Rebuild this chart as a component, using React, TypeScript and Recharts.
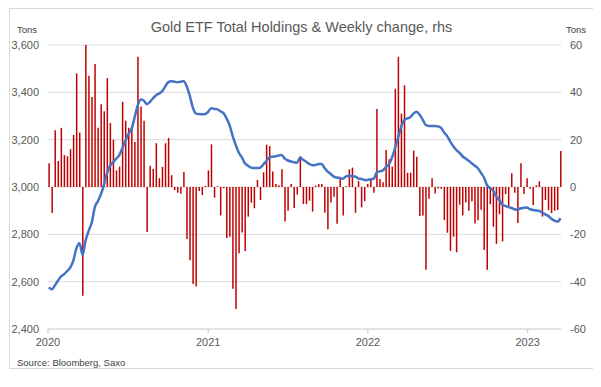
import { ComposedChart, Bar, Line, XAxis, YAxis, CartesianGrid } from "recharts";

// weekly change in tons (rhs), weeks starting 2020-01-03
const weeklyChange = [
  10, -11, 24, 11, 25, 13.5, 13, 16, 22, 48, 23, -46, 60, 47, 38, 52, 25, 35, 32, 46,
  27, 20, 7, 8.6, 36, 28, 25, 25, 19, 55, 34, 28, -19, 9, 7.6, 18.5, 3.7, 8.5, 18.5, 20.7,
  5, -1.3, -2.4, -2.8, 6.3, -22, -31, -41, -42, -1.7, -3.4, 0.5, 7, 18, -4.5, 0.3, -12, -0.5, -21.5, -21,
  -43, -51.5, -28, -19.2, -27, -12.5, -6.6, -9, 3, -5.5, 6.2, 17.9, 17.3, 6.5, 1.3, 0.7, 7.5, -14.6, -10, 1.3,
  -8.9, -3.2, 13, -7.2, -7.2, -5.8, -10.4, 0.6, 1.3, 1.3, -10.9, -17.9, -6.6, -4.1, -15.5, 4.2, -12, 0.3, 7.5, 8.2,
  -10.9, 2.5, -8.6, -6, 1.3, 3, -2.4, 33, 3.4, 2, 15.6, 11.7, 8.6, 41.5, 55, 31, 43, 6, 6, 15.4,
  12.8, -12.3, -12, -35, -5, 3.7, -2.7, -0.6, -0.8, -14, -19.3, -27, -21, -27.6, -7.5, -12, -6.6, -10, -6, -15.4,
  -14, -9.6, -26.6, -35, -7.3, -16.8, -24, -11.5, -23, -3, -8, 5.8, -2.4, -15.2, 10, -3, 3.7, -0.7, -7.6, 0.7,
  2.4, -12.5, -5.5, -9.7, -11, -10, -9.7, 15.2,
];

// total holdings in tons (lhs)
const holdings = [
  2576, 2568, 2585, 2605, 2622, 2632, 2645, 2660, 2690, 2742, 2762, 2713, 2775, 2815, 2850, 2915, 2940, 2970, 3010, 3060,
  3090, 3105, 3120, 3135, 3165, 3195, 3225, 3245, 3295, 3345, 3370, 3365, 3350, 3360, 3375, 3388, 3395, 3405, 3425, 3443,
  3447, 3445, 3443, 3445, 3447, 3425, 3385, 3335, 3310, 3308, 3307, 3308, 3318, 3333, 3330, 3328, 3320, 3312, 3290, 3260,
  3215, 3177, 3145, 3125, 3100, 3090, 3082, 3080, 3080, 3082, 3095, 3110, 3125, 3128, 3130, 3133, 3135, 3120, 3112, 3108,
  3105, 3102, 3125, 3115, 3107, 3097, 3092, 3093, 3097, 3097, 3080, 3065, 3055, 3044, 3040, 3038, 3035, 3045, 3048, 3045,
  3044, 3036, 3034, 3030, 3030, 3033, 3034, 3062, 3066, 3070, 3085, 3095, 3125, 3165, 3210, 3255, 3283, 3290, 3295, 3310,
  3318, 3305, 3285, 3262, 3258, 3258, 3258, 3256, 3250, 3230, 3215, 3192, 3172, 3156, 3145, 3130, 3120, 3111, 3100, 3090,
  3079, 3060, 3040, 3008, 2995, 2985, 2960, 2945, 2925, 2920, 2915, 2912, 2906, 2903, 2910, 2912, 2913, 2906, 2903, 2901,
  2899, 2892, 2884, 2878, 2866, 2858, 2854, 2868,
];

const firstWeek = Date.UTC(2020, 0, 3);
const DAY = 86400000;
const yearTicks = [Date.UTC(2020, 0, 1), Date.UTC(2021, 0, 1), Date.UTC(2022, 0, 1), Date.UTC(2023, 0, 1)];
const leftTicks = [2400, 2600, 2800, 3000, 3200, 3400, 3600];
const rightTicks = [-60, -40, -20, 0, 20, 40, 60];

const data = weeklyChange.map((c, i) => ({
  date: firstWeek + i * 7 * DAY,
  change: c,
  total: holdings[i],
}));

const font = "'Liberation Sans', Arial, sans-serif";
const gray = "#595959";
const grid = "#d9d9d9";

export default function App() {
  return (
    <div
      style={{
        position: "relative",
        marginLeft: 1,
        width: 585,
        height: 361,
        boxSizing: "border-box",
        border: `1px solid ${grid}`,
        fontFamily: font,
        background: "#fff",
      }}
    >
      <div
        style={{
          position: "absolute",
          left: 0,
          width: 583,
          top: 10,
          textAlign: "center",
          fontSize: 14.5,
          color: gray,
        }}
      >
        Gold ETF Total Holdings &amp; Weekly change, rhs
      </div>
      <div style={{ position: "absolute", left: 7, top: 15, fontSize: 9.5, color: "#404040" }}>Tons</div>
      <div style={{ position: "absolute", left: 556, top: 15, fontSize: 9.5, color: "#404040" }}>Tons</div>
      <div style={{ position: "absolute", left: 7, top: 348, fontSize: 9.5, color: "#404040" }}>
        Source: Bloomberg, Saxo
      </div>
      <div style={{ position: "absolute", left: 0, top: 0 }}>
        <ComposedChart
          width={583}
          height={359}
          data={data}
          margin={{ top: 36, right: 0, bottom: 19, left: 0 }}
        >
          <CartesianGrid vertical={false} stroke={grid} yAxisId="l" />
          <XAxis
            dataKey="date"
            type="number"
            scale="time"
            domain={[Date.UTC(2020, 0, 1), Date.UTC(2023, 2, 18)]}
            ticks={yearTicks}
            tickFormatter={(v) => String(new Date(v).getUTCFullYear())}
            height={20}
            tickSize={4}
            tickMargin={5}
            axisLine={{ stroke: grid }}
            tickLine={{ stroke: "#bfbfbf" }}
            tick={{ fill: gray, fontSize: 11, fontFamily: font }}
          />
          <YAxis
            yAxisId="l"
            domain={[2400, 3600]}
            ticks={leftTicks}
            width={38}
            axisLine={false}
            tickLine={false}
            tickMargin={3}
            tickFormatter={(v) => Number(v).toLocaleString("en-US")}
            tick={{ fill: gray, fontSize: 11, fontFamily: font }}
          />
          <YAxis
            yAxisId="r"
            orientation="right"
            domain={[-60, 60]}
            ticks={rightTicks}
            width={32}
            axisLine={false}
            tickLine={false}
            tickMargin={3}
            tick={{ fill: gray, fontSize: 11, fontFamily: font }}
          />
          <Bar yAxisId="r" dataKey="change" fill="#c00000" barSize={1.5} isAnimationActive={false} />
          <Line
            yAxisId="l"
            dataKey="total"
            type="monotone"
            stroke="#4472c4"
            strokeWidth={2.5}
            dot={false}
            isAnimationActive={false}
          />
        </ComposedChart>
      </div>
    </div>
  );
}
